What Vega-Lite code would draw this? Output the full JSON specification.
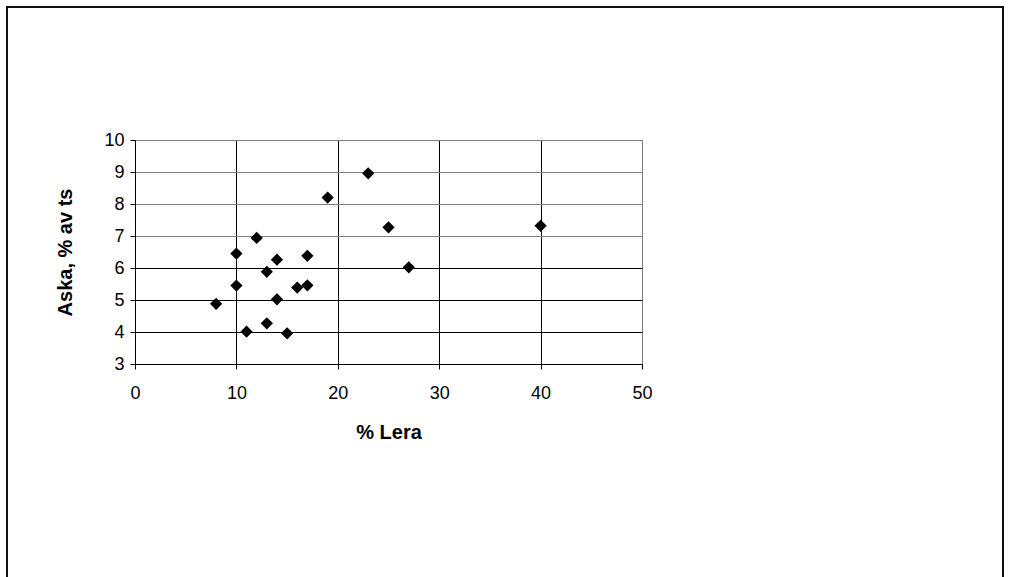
{
  "$schema": "https://vega.github.io/schema/vega-lite/v6.json",
  "autosize": {"type": "none"},
  "width": 507,
  "height": 224,
  "padding": {"left": 135, "top": 140, "right": 368, "bottom": 213},
  "background": "white",
  "config": {
    "font": "Liberation Sans",
    "view": {"stroke": "#808080", "strokeWidth": 1},
    "axis": {
      "labelFont": "Liberation Sans",
      "labelFontSize": 18,
      "labelColor": "#000000",
      "labelFlush": false,
      "titleFont": "Liberation Sans",
      "titleFontSize": 20,
      "titleFontWeight": "bold",
      "titleColor": "#000000",
      "domainColor": "#000000",
      "tickColor": "#000000",
      "tickSize": 5,
      "gridColor": "#000000",
      "gridOpacity": 1,
      "gridWidth": 1
    }
  },
  "datasets": {
    "samples": [
      {"lera": 8, "aska": 4.88},
      {"lera": 10, "aska": 6.45},
      {"lera": 10, "aska": 5.45},
      {"lera": 11, "aska": 4.01},
      {"lera": 12, "aska": 6.94},
      {"lera": 13, "aska": 5.88},
      {"lera": 13, "aska": 4.27},
      {"lera": 14, "aska": 6.26},
      {"lera": 14, "aska": 5.02},
      {"lera": 15, "aska": 3.96},
      {"lera": 16, "aska": 5.39},
      {"lera": 17, "aska": 6.38},
      {"lera": 17, "aska": 5.46},
      {"lera": 19, "aska": 8.2},
      {"lera": 23, "aska": 8.96},
      {"lera": 25, "aska": 7.27},
      {"lera": 27, "aska": 6.02},
      {"lera": 40, "aska": 7.32}
    ],
    "frame": [{"name": "chart frame"}]
  },
  "layer": [
    {
      "data": {"name": "frame"},
      "mark": {
        "type": "rect",
        "filled": false,
        "stroke": "#111111",
        "strokeWidth": 2,
        "clip": false,
        "x": -128,
        "x2": 868,
        "y": -133,
        "y2": 470
      },
      "encoding": {}
    },
    {
      "data": {"name": "samples"},
      "mark": {
        "type": "point",
        "shape": "diamond",
        "filled": true,
        "color": "#000000",
        "opacity": 1,
        "size": 150
      },
      "encoding": {
        "x": {
          "field": "lera",
          "type": "quantitative",
          "title": "% Lera",
          "scale": {"domain": [0, 50], "nice": false, "zero": false},
          "axis": {
            "values": [0, 10, 20, 30, 40, 50],
            "labelPadding": 15,
            "titlePadding": 20,
            "gridColor": {
              "condition": {"test": "datum.value == 50", "value": "#808080"},
              "value": "#000000"
            }
          }
        },
        "y": {
          "field": "aska",
          "type": "quantitative",
          "title": "Aska, % av ts",
          "scale": {"domain": [3, 10], "nice": false, "zero": false},
          "axis": {
            "values": [3, 4, 5, 6, 7, 8, 9, 10],
            "labelPadding": 6,
            "titlePadding": 28,
            "gridColor": {
              "condition": {"test": "datum.value >= 7", "value": "#808080"},
              "value": "#000000"
            }
          }
        }
      }
    }
  ]
}
